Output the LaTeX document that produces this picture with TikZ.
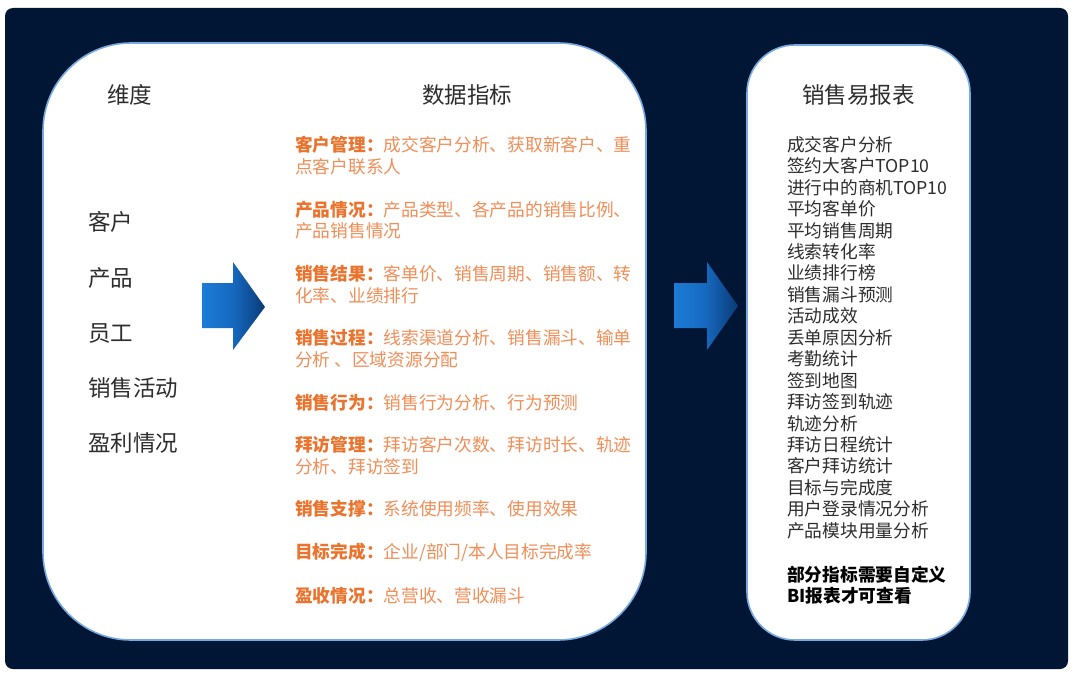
\documentclass[tikz,border=0pt]{standalone}
\usepackage{fontspec}
\setmainfont{Noto Sans CJK SC}
\usetikzlibrary{shadings}
\definecolor{bgnavy}{RGB}{0,22,52}
\definecolor{edgeblue}{RGB}{120,170,225}
\definecolor{txtgray}{RGB}{45,45,45}
\definecolor{orlab}{RGB}{234,115,45}
\definecolor{ortxt}{RGB}{240,142,88}
\definecolor{arrL}{RGB}{28,124,214}
\definecolor{arrM}{RGB}{22,104,190}
\definecolor{arrR}{RGB}{10,58,118}
\tikzset{
  panel/.style={fill=white,draw=edgeblue,line width=1.6pt},
  txtbase/.style={inner sep=0pt,text height=0.88em,text depth=0.12em,yshift=-4.5pt},
  title/.style={txtbase,font=\fontsize{22.5}{26}\selectfont,text=txtgray},
  dimtxt/.style={txtbase,font=\fontsize{22.5}{26}\selectfont,text=txtgray,anchor=west},
  metric/.style={txtbase,font=\fontsize{17.7}{22}\selectfont,text=ortxt,anchor=west},
  rpt/.style={txtbase,font=\fontsize{17.7}{21}\selectfont,text=txtgray,anchor=west},
  rptb/.style={rpt,font=\fontsize{17.7}{21}\selectfont\bfseries,text=black},
}
\newcommand{\lab}[1]{\textcolor{orlab}{\bfseries #1}}
\begin{document}
\begin{tikzpicture}[x=1pt,y=-1pt]
\useasboundingbox (0,0) rectangle (1074,674);
\fill[white] (0,0) rectangle (1074,674);
\fill[bgnavy,rounded corners=8pt] (5,8) rectangle (1068,669);
% panels
\draw[panel,rounded corners=88pt] (43,43) rectangle (646,640);
\draw[panel,rounded corners=48pt] (747,45) rectangle (970,640);
% arrows
\shade[left color=arrL,right color=arrR,middle color=arrM]
  (202,283) -- (233,283) -- (233,262) -- (265,307) -- (233,350) -- (233,328) -- (202,328) -- cycle;
\shade[left color=arrL,right color=arrR,middle color=arrM]
  (674,283) -- (707,283) -- (707,262) -- (738,306) -- (707,350) -- (707,328) -- (674,328) -- cycle;
% titles
\node[title] (t1) at (129.5,95) {维度};
\node[title] (t2) at (467,95) {数据指标};
\node[title] (t3) at (858.5,95) {销售易报表};
% dimensions
\node[dimtxt] (d1) at (88,222) {客户};
\node[dimtxt] (d2) at (88,278) {产品};
\node[dimtxt] (d3) at (88,333) {员工};
\node[dimtxt] (d4) at (88,388) {销售活动};
\node[dimtxt] (d5) at (88,443) {盈利情况};
% metrics
\node[metric] (m1a) at (295,143) {\lab{客户管理：}成交客户分析、获取新客户、重};
\node[metric] (m1b) at (295,165) {点客户联系人};
\node[metric] (m2a) at (295,208) {\lab{产品情况：}产品类型、各产品的销售比例、};
\node[metric] (m2b) at (295,229) {产品销售情况};
\node[metric] (m3a) at (295,272) {\lab{销售结果：}客单价、销售周期、销售额、转};
\node[metric] (m3b) at (295,294) {化率、业绩排行};
\node[metric] (m4a) at (295,336) {\lab{销售过程：}线索渠道分析、销售漏斗、输单};
\node[metric] (m4b) at (295,358) {分析 、区域资源分配};
\node[metric] (m5) at (295,401) {\lab{销售行为：}销售行为分析、行为预测};
\node[metric] (m6a) at (295,443) {\lab{拜访管理：}拜访客户次数、拜访时长、轨迹};
\node[metric] (m6b) at (295,465) {分析、拜访签到};
\node[metric] (m7) at (295,507) {\lab{销售支撑：}系统使用频率、使用效果};
\node[metric] (m8) at (295,550) {\lab{目标完成：}企业/部门/本人目标完成率};
\node[metric] (m9) at (295,594) {\lab{盈收情况：}总营收、营收漏斗};
% report list
\foreach \t [count=\i from 0] in {成交客户分析,签约大客户TOP10,进行中的商机TOP10,平均客单价,平均销售周期,线索转化率,业绩排行榜,销售漏斗预测,活动成效,丢单原因分析,考勤统计,签到地图,拜访签到轨迹,轨迹分析,拜访日程统计,客户拜访统计,目标与完成度,用户登录情况分析,产品模块用量分析}
  \node[rpt] (r\i) at (787,{143+21.44*\i}) {\t};
\node[rptb] (n1) at (787,573) {部分指标需要自定义};
\node[rptb] (n2) at (787,594) {BI报表才可查看};
\end{tikzpicture}
\end{document}
